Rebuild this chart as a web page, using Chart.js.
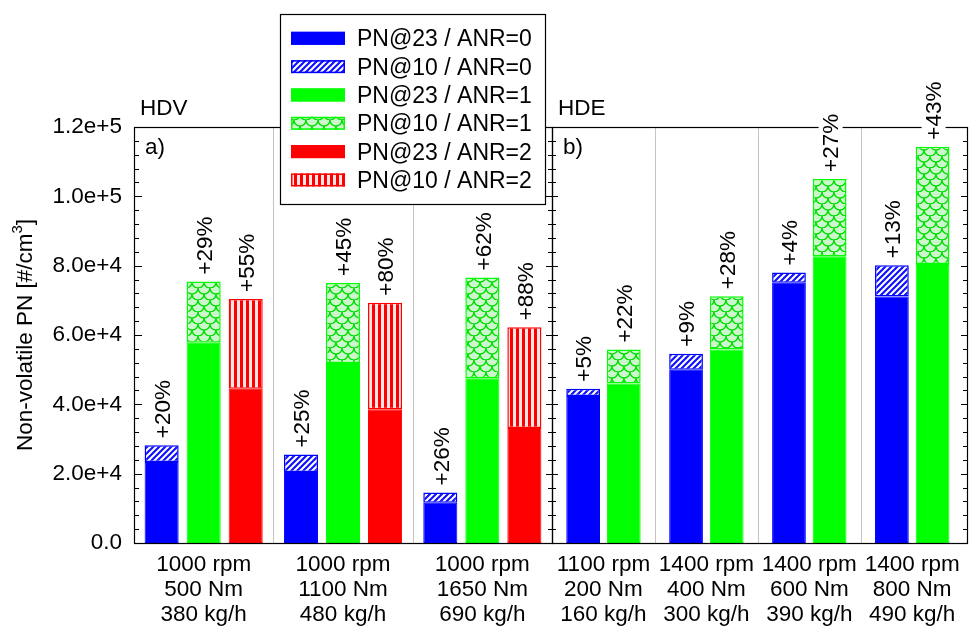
<!DOCTYPE html>
<html>
<head>
<meta charset="utf-8">
<script src="https://cdn.jsdelivr.net/npm/chart.js@4/dist/chart.umd.min.js"></script>
<style>
  html, body { margin: 0; padding: 0; background: #fff; }
  #wrap { position: relative; width: 969px; height: 626px; overflow: hidden; }
  #wrap canvas { position: absolute; left: 0; top: 0; }
</style>
</head>
<body>
<div id="wrap">
  <canvas id="hdv" width="969" height="626"></canvas>
  <canvas id="hde" width="969" height="626"></canvas>
</div>
<script>
// ---------------- data ----------------
const hdvCategories = [
  ['1000 rpm', '500 Nm', '380 kg/h'],
  ['1000 rpm', '1100 Nm', '480 kg/h'],
  ['1000 rpm', '1650 Nm', '690 kg/h']
];
const hdeCategories = [
  ['1100 rpm', '200 Nm', '160 kg/h'],
  ['1400 rpm', '400 Nm', '300 kg/h'],
  ['1400 rpm', '600 Nm', '390 kg/h'],
  ['1400 rpm', '800 Nm', '490 kg/h']
];
const seriesNames = ['PN@23 / ANR=0', 'PN@10 / ANR=0', 'PN@23 / ANR=1', 'PN@10 / ANR=1', 'PN@23 / ANR=2', 'PN@10 / ANR=2'];

const hdvPN23_ANR0 = [23400, 20500, 11600];
const hdvPN10_ANR0 = [28200, 25500, 14600];
const hdvPN23_ANR1 = [57800, 51900, 47500];
const hdvPN10_ANR1 = [75400, 75000, 76600];
const hdvPN23_ANR2 = [44500, 38600, 33200];
const hdvPN10_ANR2 = [70400, 69300, 62200];

const hdePN23_ANR0 = [42400, 50000, 75100, 71100];
const hdePN10_ANR0 = [44500, 54600, 78000, 80100];
const hdePN23_ANR1 = [46000, 55800, 82700, 80500];
const hdePN10_ANR1 = [55800, 71200, 105000, 114300];

const hdvPct_ANR0 = ['+20%', '+25%', '+26%'];
const hdvPct_ANR1 = ['+29%', '+45%', '+62%'];
const hdvPct_ANR2 = ['+55%', '+80%', '+88%'];
const hdePct_ANR0 = ['+5%', '+9%', '+4%', '+13%'];
const hdePct_ANR1 = ['+22%', '+28%', '+27%', '+43%'];

const yTickValues = [0, 20000, 40000, 60000, 80000, 100000, 120000];
const yTickLabels = ['0.0', '2.0e+4', '4.0e+4', '6.0e+4', '8.0e+4', '1.0e+5', '1.2e+5'];
const yTitle = 'Non-volatile PN [#/cm';
const yTitleSup = '3';
const panelTitles = ['HDV', 'HDE'];
const panelTags = ['a)', 'b)'];

// ---------------- style ----------------
const W = 969, H = 626;
const T = 127, B = 543;
const L1 = 134, R1 = 552, L2 = 552, R2 = 967;
const FONT_FAMILY = "'Liberation Sans', Arial, sans-serif";
const FS = 22.5;
const FONT = FS + 'px ' + FONT_FAMILY;
const LEG_FONT = '23px ' + FONT_FAMILY;
const BLUE = '#0000ff', GREEN = '#00ff00', RED = '#ff0000';

Chart.defaults.font.family = FONT_FAMILY;
Chart.defaults.font.size = FS;
Chart.defaults.color = '#000';

function tile(w, h, draw) {
  const c = document.createElement('canvas');
  c.width = w; c.height = h;
  draw(c.getContext('2d'));
  return c.getContext('2d').createPattern(c, 'repeat');
}
const bluePattern = tile(6, 6, (x) => {
  x.fillStyle = '#ffffff'; x.fillRect(0, 0, 6, 6);
  x.strokeStyle = '#1010ff'; x.lineWidth = 2.2;
  x.beginPath();
  for (const k of [-1, 0, 1]) { x.moveTo(k * 6 - 1, 7); x.lineTo(k * 6 + 7, -1); }
  x.stroke();
});
const redPattern = tile(6, 6, (x) => {
  x.fillStyle = '#ffe6e6'; x.fillRect(0, 0, 6, 6);
  x.fillStyle = RED; x.fillRect(0, 0, 3, 6);
});
const greenPattern = tile(12, 12, (x) => {
  x.fillStyle = '#ccf7cc'; x.fillRect(0, 0, 12, 12);
  x.strokeStyle = '#00dd00'; x.lineWidth = 1.3;
  x.beginPath(); x.arc(0, 0, 6, 0, Math.PI / 2); x.stroke();
  x.beginPath(); x.arc(12, 0, 6, Math.PI / 2, Math.PI); x.stroke();
  x.beginPath(); x.arc(6, 6, 6, 0, Math.PI); x.stroke();
});

function diff(tot, base) { return tot.map((v, i) => v - base[i]); }
function solid(label, data, color, stack) {
  return { label, data, stack, backgroundColor: color, borderColor: color, borderWidth: 1, borderSkipped: false };
}
function hatched(label, data, color, pattern, stack, pct) {
  return { label, data, stack, backgroundColor: pattern, borderColor: color, borderWidth: 1.5, borderSkipped: false, pct };
}

function drawPct(ctx, x, yTop, text) {
  ctx.save();
  ctx.translate(x + 1, yTop - 7);
  ctx.rotate(-Math.PI / 2);
  ctx.font = FONT;
  const w = ctx.measureText(text).width;
  ctx.fillStyle = '#fff';
  ctx.fillRect(-3, -12, w + 6, 24);
  ctx.fillStyle = '#000';
  ctx.textAlign = 'left';
  ctx.textBaseline = 'middle';
  ctx.fillText(text, 0, 1);
  ctx.restore();
}

function panelPlugin(cfg) {
  return {
    id: 'panel' + cfg.idx,
    beforeDatasetsDraw(chart) {
      const ctx = chart.ctx, xs = chart.scales.x;
      ctx.save();
      ctx.strokeStyle = '#c4c4c4'; ctx.lineWidth = 1;
      for (let k = 1; k < chart.data.labels.length; k++) {
        const px = Math.round((xs.getPixelForValue(k - 1) + xs.getPixelForValue(k)) / 2) + 0.5;
        ctx.beginPath(); ctx.moveTo(px, T); ctx.lineTo(px, B); ctx.stroke();
      }
      ctx.restore();
    },
    afterDraw(chart) {
      const ctx = chart.ctx, ys = chart.scales.y;
      const L = cfg.left, R = cfg.right;
      ctx.save();
      // ticks
      ctx.strokeStyle = '#000'; ctx.lineWidth = 1;
      for (let v = 0; v <= 120000; v += 4000) {
        const y = Math.round(ys.getPixelForValue(v)) + 0.5;
        const major = v % 20000 === 0;
        ctx.beginPath();
        const inL = major ? cfg.lenLeftMajor : cfg.lenLeftMinor;
        ctx.moveTo(L, y); ctx.lineTo(L + inL, y);
        ctx.moveTo(R, y); ctx.lineTo(R - (major ? 6 : 4), y);
        ctx.stroke();
      }
      // frame
      ctx.lineWidth = 1.2;
      ctx.strokeRect(L + 0.5, T + 0.5, R - L, B - T);
      // panel title & tag
      ctx.fillStyle = '#000';
      ctx.font = FONT;
      ctx.textAlign = 'left';
      ctx.textBaseline = 'alphabetic';
      ctx.fillText(panelTitles[cfg.idx], L + 6, 115);
      ctx.fillText(panelTags[cfg.idx], L + 11, 154);
      // percentage labels
      chart.data.datasets.forEach((ds, di) => {
        if (!ds.pct) return;
        const meta = chart.getDatasetMeta(di);
        meta.data.forEach((el, j) => drawPct(ctx, el.x, el.y, ds.pct[j]));
      });
      if (cfg.idx === 0) {
        // y title
        ctx.save();
        ctx.translate(24, (T + B) / 2);
        ctx.rotate(-Math.PI / 2);
        ctx.font = FONT;
        const w1 = ctx.measureText(yTitle).width;
        ctx.font = '15px ' + FONT_FAMILY;
        const w2 = ctx.measureText(yTitleSup).width;
        ctx.font = FONT;
        const w3 = ctx.measureText(']').width;
        const x0 = -(w1 + w2 + w3) / 2;
        ctx.textAlign = 'left'; ctx.textBaseline = 'alphabetic';
        ctx.fillText(yTitle, x0, 8);
        ctx.font = '15px ' + FONT_FAMILY;
        ctx.fillText(yTitleSup, x0 + w1, -2);
        ctx.font = FONT;
        ctx.fillText(']', x0 + w1 + w2, 8);
        ctx.restore();
        // legend
        const lx = 280, ly = 14, lw = 265, lh = 190;
        ctx.fillStyle = '#fff';
        ctx.fillRect(lx, ly, lw, lh);
        ctx.strokeStyle = '#000'; ctx.lineWidth = 1.2;
        ctx.strokeRect(lx + 0.5, ly + 0.5, lw, lh);
        chart.data.datasets.forEach((ds, i) => {
          const c = 38.3 + i * 28.33;
          ctx.fillStyle = ds.backgroundColor;
          ctx.fillRect(291, c - 6.5, 54, 13);
          ctx.strokeStyle = ds.borderColor; ctx.lineWidth = 1.5;
          ctx.strokeRect(291.75, c - 5.75, 52.5, 11.5);
          ctx.fillStyle = '#000';
          ctx.font = LEG_FONT;
          ctx.textAlign = 'left'; ctx.textBaseline = 'alphabetic';
          ctx.fillText(ds.label, 357, c + 8);
        });
      }
      ctx.restore();
    }
  };
}

const xTicks = { font: { size: FS, lineHeight: 1.11 }, color: '#000', padding: 9, maxRotation: 0, autoSkip: false };

new Chart(document.getElementById('hdv'), {
  type: 'bar',
  data: {
    labels: hdvCategories,
    datasets: [
      solid(seriesNames[0], hdvPN23_ANR0, BLUE, 's0'),
      hatched(seriesNames[1], diff(hdvPN10_ANR0, hdvPN23_ANR0), BLUE, bluePattern, 's0', hdvPct_ANR0),
      solid(seriesNames[2], hdvPN23_ANR1, GREEN, 's1'),
      hatched(seriesNames[3], diff(hdvPN10_ANR1, hdvPN23_ANR1), GREEN, greenPattern, 's1', hdvPct_ANR1),
      solid(seriesNames[4], hdvPN23_ANR2, RED, 's2'),
      hatched(seriesNames[5], diff(hdvPN10_ANR2, hdvPN23_ANR2), RED, redPattern, 's2', hdvPct_ANR2)
    ]
  },
  options: {
    responsive: false, animation: false, devicePixelRatio: 1, events: [],
    datasets: { bar: { categoryPercentage: 0.905, barPercentage: 0.81 } },
    layout: { autoPadding: false, padding: { left: 0, right: W - R1, top: T, bottom: 0 } },
    plugins: { legend: { display: false }, tooltip: { enabled: false } },
    scales: {
      x: {
        stacked: true, grid: { display: false, drawTicks: false }, border: { display: false },
        ticks: xTicks,
        afterFit: (s) => { s.height = H - B; }
      },
      y: {
        stacked: true, min: 0, max: 120000,
        grid: { display: false, drawTicks: false }, border: { display: false },
        ticks: {
          stepSize: 20000, padding: 12, color: '#000', font: { size: FS },
          callback: (v) => yTickLabels[yTickValues.indexOf(v)]
        },
        afterFit: (s) => { s.width = L1; }
      }
    }
  },
  plugins: [panelPlugin({ idx: 0, left: L1, right: R1, lenLeftMajor: 8, lenLeftMinor: 5 })]
});

new Chart(document.getElementById('hde'), {
  type: 'bar',
  data: {
    labels: hdeCategories,
    datasets: [
      solid(seriesNames[0], hdePN23_ANR0, BLUE, 's0'),
      hatched(seriesNames[1], diff(hdePN10_ANR0, hdePN23_ANR0), BLUE, bluePattern, 's0', hdePct_ANR0),
      solid(seriesNames[2], hdePN23_ANR1, GREEN, 's1'),
      hatched(seriesNames[3], diff(hdePN10_ANR1, hdePN23_ANR1), GREEN, greenPattern, 's1', hdePct_ANR1)
    ]
  },
  options: {
    responsive: false, animation: false, devicePixelRatio: 1, events: [],
    datasets: { bar: { categoryPercentage: 0.79, barPercentage: 0.83 } },
    layout: { autoPadding: false, padding: { left: L2, right: W - R2, top: T, bottom: 0 } },
    plugins: { legend: { display: false }, tooltip: { enabled: false } },
    scales: {
      x: {
        stacked: true, grid: { display: false, drawTicks: false }, border: { display: false },
        ticks: xTicks,
        afterFit: (s) => { s.height = H - B; }
      },
      y: { display: false, stacked: true, min: 0, max: 120000 }
    }
  },
  plugins: [panelPlugin({ idx: 1, left: L2, right: R2, lenLeftMajor: 6, lenLeftMinor: 4 })]
});
</script>
</body>
</html>
